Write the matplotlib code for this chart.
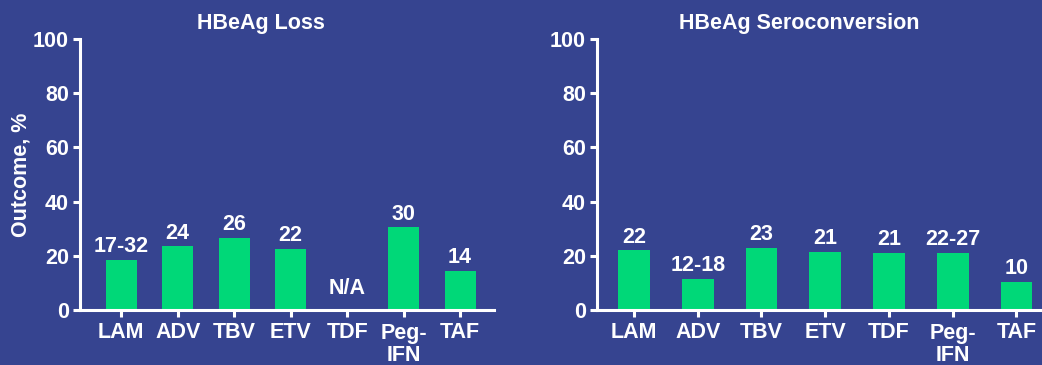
import numpy as np
import matplotlib
matplotlib.use('Agg')
import matplotlib.pyplot as plt

plt.rcParams['font.family'] = ['Liberation Sans', 'DejaVu Sans']
plt.rcParams['font.weight'] = 'bold'

# data
drugs = ['LAM', 'ADV', 'TBV', 'ETV', 'TDF', 'Peg-\nIFN', 'TAF']
loss_vals = [18.5, 23.5, 26.5, 22.5, 0, 30.5, 14.5]
loss_labels = ['17-32', '24', '26', '22', 'N/A', '30', '14']
sero_vals = [22, 11.5, 23, 21.5, 21, 21, 10.5]
sero_labels = ['22', '12-18', '23', '21', '21', '22-27', '10']

bg = '#364490'
green = '#00D878'
fs = 15.5

fig = plt.figure(figsize=(10.42, 3.65), dpi=100, facecolor=bg)

def panel(rect, vals, labels, title, title_x, xlim, width, ylabel=None):
    ax = fig.add_axes(rect)
    ax.set_facecolor(bg)
    x = np.arange(len(vals))
    ax.bar(x, vals, width=width, color=green, zorder=2)
    for xi, v, lab in zip(x, vals, labels):
        off = 3 if lab == 'N/A' else 0
        ax.annotate(lab, (xi, v + off), xytext=(0, 2), textcoords='offset points',
                    ha='center', va='bottom', color='white', fontsize=fs, fontweight='bold')
    ax.set_ylim(0, 100)
    ax.set_xlim(*xlim)
    ax.set_yticks([0, 20, 40, 60, 80, 100])
    ax.set_xticks(x)
    ax.set_xticklabels(drugs, va='top', linespacing=1.1)
    for s in ['top', 'right']:
        ax.spines[s].set_visible(False)
    for s in ['left', 'bottom']:
        ax.spines[s].set_color('white')
        ax.spines[s].set_linewidth(2.2)
    ax.tick_params(colors='white', width=2.2, length=5, labelsize=fs, pad=3)
    ax.tick_params(axis='x', pad=4)
    for t in ax.get_xticklabels() + ax.get_yticklabels():
        t.set_fontweight('bold')
    ax.set_title(title, x=title_x, y=1.0, pad=7, color='white', fontsize=fs, fontweight='bold')
    if ylabel:
        ax.set_ylabel(ylabel, color='white', fontsize=fs, fontweight='bold', labelpad=1)
    return ax

panel([80/1042, 55/365, 414/1042, 271/365], loss_vals, loss_labels,
      'HBeAg Loss', 0.437, (-0.73, 6.6), 0.55, ylabel='Outcome, %')
panel([597/1042, 55/365, 445/1042, 271/365], sero_vals, sero_labels,
      'HBeAg Seroconversion', 0.454, (-0.58, 6.4), 0.5)

fig.savefig('out.png', dpi=100, facecolor=bg)
